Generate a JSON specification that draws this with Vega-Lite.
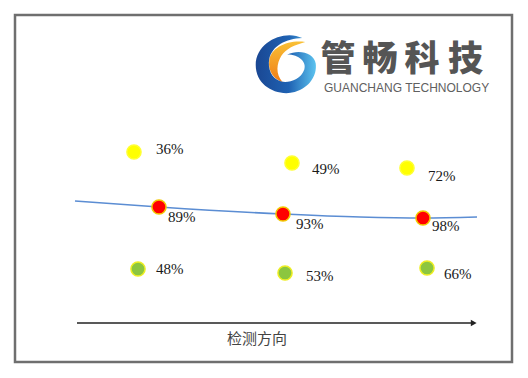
{
  "$schema": "https://vega.github.io/schema/vega-lite/v6.json",
  "width": 497,
  "height": 347,
  "autosize": {"type": "none"},
  "padding": {"left": 15, "top": 15, "right": 16, "bottom": 16},
  "background": "#ffffff",
  "config": {"view": {"stroke": "#6f6f6f", "strokeWidth": 2.5}},
  "datasets": {
    "points": [
      {"group": "黄", "x": 23.94, "y": 60.52, "label": "36%", "lx": 28.37, "ly": 61.38},
      {"group": "黄", "x": 55.73, "y": 57.35, "label": "49%", "lx": 59.76, "ly": 55.62},
      {"group": "黄", "x": 78.87, "y": 55.91, "label": "72%", "lx": 83.10, "ly": 53.60},
      {"group": "红", "x": 28.97, "y": 44.67, "label": "89%", "lx": 30.78, "ly": 41.79},
      {"group": "红", "x": 53.92, "y": 42.65, "label": "93%", "lx": 56.54, "ly": 39.77},
      {"group": "红", "x": 82.09, "y": 41.50, "label": "98%", "lx": 83.90, "ly": 39.19},
      {"group": "绿", "x": 24.75, "y": 26.80, "label": "48%", "lx": 28.37, "ly": 26.80},
      {"group": "绿", "x": 54.33, "y": 25.65, "label": "53%", "lx": 58.55, "ly": 24.78},
      {"group": "绿", "x": 82.90, "y": 27.09, "label": "66%", "lx": 86.32, "ly": 25.36}
    ],
    "curve": [
      {"x": 12.07, "y": 46.40},
      {"x": 28.97, "y": 44.67},
      {"x": 53.92, "y": 42.65},
      {"x": 69.42, "y": 41.79},
      {"x": 82.09, "y": 41.50},
      {"x": 92.96, "y": 41.79}
    ],
    "logo": [{"x": 54.47, "y": 85.99}],
    "chars": [
      {"c": "管", "x": 64.99, "y": 86.9},
      {"c": "畅", "x": 73.44, "y": 86.9},
      {"c": "科", "x": 81.89, "y": 86.9},
      {"c": "技", "x": 90.64, "y": 86.9}
    ],
    "eng": [{"t": "GUANCHANG TECHNOLOGY", "x": 78.79, "y": 79.0}],
    "arrow": [{"x": 12.47, "x2": 92.3, "y": 11.24, "t": "检测方向", "tx": 48.69, "ty": 6.63}]
  },
  "layer": [
    {
      "data": {"name": "logo"},
      "mark": {
        "type": "point",
        "filled": true,
        "opacity": 1,
        "strokeWidth": 0,
        "size": 3600,
        "shape": "M0.65,-0.72 C0.1,-0.8 -0.5,-0.55 -0.55,-0.1 C-0.6,0.3 -0.35,0.55 -0.1,0.62 C-0.35,0.35 -0.3,0.0 -0.15,-0.25 C0.0,-0.5 0.3,-0.62 0.65,-0.72 Z",
        "fill": {"gradient": "linear", "x1": 0, "y1": 0, "x2": 0, "y2": 1, "stops": [{"offset": 0, "color": "#f9c035"}, {"offset": 1, "color": "#ef7d18"}]}
      },
      "encoding": {
        "x": {"field": "x", "type": "quantitative", "scale": {"domain": [0, 100]}, "axis": null},
        "y": {"field": "y", "type": "quantitative", "scale": {"domain": [0, 100]}, "axis": null}
      }
    },
    {
      "data": {"name": "logo"},
      "mark": {
        "type": "point",
        "filled": true,
        "opacity": 1,
        "strokeWidth": 0,
        "size": 3600,
        "shape": "M0.55,-0.85 C0.0,-1.15 -1.0,-0.75 -1.0,0.05 C-1.0,0.75 -0.3,1.1 0.3,0.95 C0.8,0.8 1.05,0.4 1.0,0.0 C0.95,-0.35 0.45,-0.5 0.05,-0.3 C0.45,-0.3 0.7,-0.05 0.62,0.2 C0.5,0.55 0.1,0.65 -0.15,0.6 C-0.5,0.5 -0.6,0.15 -0.55,-0.15 C-0.45,-0.6 0.0,-0.82 0.55,-0.85 Z",
        "fill": {"gradient": "linear", "x1": 0, "y1": 0, "x2": 1, "y2": 0, "stops": [{"offset": 0, "color": "#1a4793"}, {"offset": 0.55, "color": "#1f62b3"}, {"offset": 1, "color": "#5cc3ef"}]}
      },
      "encoding": {
        "x": {"field": "x", "type": "quantitative", "scale": {"domain": [0, 100]}, "axis": null},
        "y": {"field": "y", "type": "quantitative", "scale": {"domain": [0, 100]}, "axis": null}
      }
    },
    {
      "data": {"name": "chars"},
      "mark": {"type": "text", "font": "Noto Sans CJK SC", "fontWeight": 900, "fontSize": 35, "fill": "#555555", "align": "center", "baseline": "middle"},
      "encoding": {
        "x": {"field": "x", "type": "quantitative", "scale": {"domain": [0, 100]}, "axis": null},
        "y": {"field": "y", "type": "quantitative", "scale": {"domain": [0, 100]}, "axis": null},
        "text": {"field": "c"}
      }
    },
    {
      "data": {"name": "eng"},
      "mark": {"type": "text", "font": "Liberation Sans", "fontSize": 12, "fill": "#606060", "align": "center", "baseline": "middle"},
      "encoding": {
        "x": {"field": "x", "type": "quantitative", "scale": {"domain": [0, 100]}, "axis": null},
        "y": {"field": "y", "type": "quantitative", "scale": {"domain": [0, 100]}, "axis": null},
        "text": {"field": "t"}
      }
    },
    {
      "data": {"name": "curve"},
      "mark": {"type": "line", "interpolate": "monotone", "stroke": "#5b8dd3", "strokeWidth": 1.6},
      "encoding": {
        "x": {"field": "x", "type": "quantitative", "scale": {"domain": [0, 100]}, "axis": null},
        "y": {"field": "y", "type": "quantitative", "scale": {"domain": [0, 100]}, "axis": null}
      }
    },
    {
      "data": {"name": "points"},
      "mark": {"type": "point", "shape": "circle", "filled": true, "opacity": 1, "size": 200, "strokeWidth": 1.5},
      "encoding": {
        "x": {"field": "x", "type": "quantitative", "scale": {"domain": [0, 100]}, "axis": null},
        "y": {"field": "y", "type": "quantitative", "scale": {"domain": [0, 100]}, "axis": null},
        "fill": {"field": "group", "type": "nominal", "scale": {"domain": ["黄", "红", "绿"], "range": ["#ffff00", "#ff0000", "#8cc63f"]}, "legend": null},
        "stroke": {"field": "group", "type": "nominal", "scale": {"domain": ["黄", "红", "绿"], "range": ["#ffff33", "#f2c800", "#eeee22"]}, "legend": null}
      }
    },
    {
      "data": {"name": "points"},
      "mark": {"type": "text", "font": "Liberation Serif", "fontSize": 15, "fill": "#1a1a1a", "align": "left", "baseline": "middle"},
      "encoding": {
        "x": {"field": "lx", "type": "quantitative", "scale": {"domain": [0, 100]}, "axis": null},
        "y": {"field": "ly", "type": "quantitative", "scale": {"domain": [0, 100]}, "axis": null},
        "text": {"field": "label"}
      }
    },
    {
      "data": {"name": "arrow"},
      "mark": {"type": "rule", "stroke": "#222222", "strokeWidth": 1.5},
      "encoding": {
        "x": {"field": "x", "type": "quantitative", "scale": {"domain": [0, 100]}, "axis": null},
        "x2": {"field": "x2"},
        "y": {"field": "y", "type": "quantitative", "scale": {"domain": [0, 100]}, "axis": null}
      }
    },
    {
      "data": {"name": "arrow"},
      "mark": {"type": "point", "shape": "triangle-right", "filled": true, "opacity": 1, "fill": "#222222", "strokeWidth": 0, "size": 45},
      "encoding": {
        "x": {"field": "x2", "type": "quantitative", "scale": {"domain": [0, 100]}, "axis": null},
        "y": {"field": "y", "type": "quantitative", "scale": {"domain": [0, 100]}, "axis": null}
      }
    },
    {
      "data": {"name": "arrow"},
      "mark": {"type": "text", "font": "Noto Sans CJK SC", "fontSize": 15, "fill": "#444444", "align": "center", "baseline": "middle"},
      "encoding": {
        "x": {"field": "tx", "type": "quantitative", "scale": {"domain": [0, 100]}, "axis": null},
        "y": {"field": "ty", "type": "quantitative", "scale": {"domain": [0, 100]}, "axis": null},
        "text": {"field": "t"}
      }
    }
  ]
}
